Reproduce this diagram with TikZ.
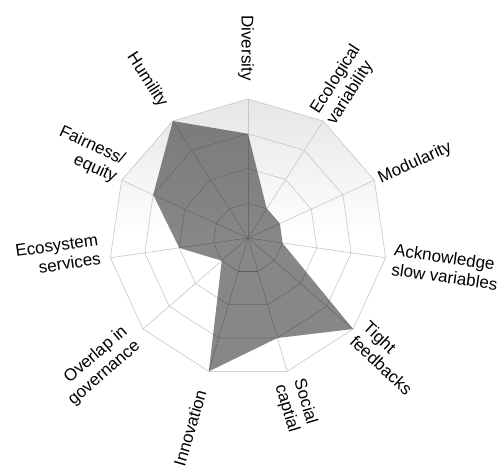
\documentclass[tikz,border=0pt]{standalone}
\usepackage{fontspec}
\setmainfont{Liberation Sans}
\begin{document}
\begin{tikzpicture}[x=1pt,y=1pt,
  gridline/.style={draw=black!22, line width=0.6pt},
  spoke/.style={draw=black!22, line width=0.6pt},
  datafill/.style={fill=black, fill opacity=0.47},
  lbl/.style={font=\fontsize{17}{19.5}\selectfont, inner sep=0pt}]
\useasboundingbox (0,0) rectangle (503,468);
\coordinate (C) at (248,230);
% ring vertices: r<level>-<axis>, eleven axes, four levels
\foreach \i in {0,...,10} {
  \foreach \k in {1,2,3,4} {
    \path (C) ++({90-\i*360/11}:{\k*34.75}) coordinate (r\k-\i);
  }
}
% background gradient inside the outer ring
\shade[top color=black!10, bottom color=white, middle color=white]
  (r4-0) \foreach \i in {1,...,10}{ -- (r4-\i)} -- cycle;
% rings and spokes
\foreach \k in {1,...,4}
  \draw[gridline] (r\k-0) \foreach \i in {1,...,10}{ -- (r\k-\i)} -- cycle;
\foreach \i in {0,...,10}
  \draw[spoke] (C) -- (r4-\i);
% category axis segments
\draw[line width=1.6pt, black!17] (r4-5) -- (r4-6);
\draw[line width=1.1pt, black!30] (r1-5) -- (r1-6);
% data series
\fill[datafill] (r3-0) -- (r1-1) -- (r1-2) -- (r1-3) -- (r4-4) -- (r3-5)
  -- (r4-6) -- (r1-7) -- (r2-8) -- (r3-9) -- (r4-10) -- cycle;
% axis labels
\node[lbl, rotate=-90] (lDiv) at (246,420) {Diversity};
\node[lbl, rotate=57.3, align=left] (lEco) at (344,383) {Ecological\\variability};
\node[lbl, rotate=24.5] (lMod) at (415,305) {Modularity};
\node[lbl, rotate=-8.2, align=left] (lAsv) at (446,201) {Acknowledge\\slow variables};
\node[lbl, rotate=-43, align=left] (lTf) at (388,110) {Tight\\feedbacks};
\node[lbl, rotate=-73.6, align=left] (lSoc) at (296,62) {Social\\captial};
\node[lbl, rotate=73.6] (lInn) at (190,40) {Innovation};
\node[lbl, rotate=40.9, align=right] (lOvl) at (98,102) {Overlap in\\governance};
\node[lbl, rotate=8.2, align=right] (lEcs) at (58,213) {Ecosystem\\services};
\node[lbl, rotate=-24.5, align=right] (lFair) at (88,313) {Fairness/\\equity};
\node[lbl, rotate=-57.3] (lHum) at (147,388) {Humility};
\end{tikzpicture}
\end{document}
